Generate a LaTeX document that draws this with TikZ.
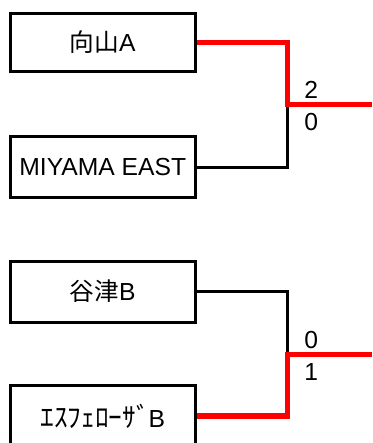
\documentclass[tikz,border=0pt]{standalone}
\usepackage{fontspec}
\setmainfont{Liberation Sans}
\newfontfamily\jp{Noto Sans CJK JP}
\usetikzlibrary{positioning}

\tikzset{team/.style={draw, line width=2.25pt, minimum width=138.4pt, minimum height=45.75pt, inner sep=0pt, font=\fontsize{18.5}{20}\selectfont},
  lose/.style={line width=2.25pt},
  win/.style={red, line width=4.3pt},
  score/.style={anchor=base west, inner sep=0pt, font=\fontsize{18.5}{20}\selectfont}}

\begin{document}
\begin{tikzpicture}[x=0.75pt,y=-0.75pt]
\useasboundingbox (0,0) rectangle (372,443);
\node[team, minimum height=43.5pt] (mukai) at (102.75,42.5) {{\jp 向山}A};
\node[team] (miyama) at (102.75,167) {MIYAMA EAST};
\node[team] (yatsu) at (102.75,291.5) {{\jp 谷津}B};
\node[team] (esfe) at (102.75,416) {{\jp\fontsize{20.5}{22}\selectfont ｴｽﾌｪﾛｰｻﾞ}\kern-1pt B};
\coordinate (m1) at (287.5,104.5);
\coordinate (w1) at (372,104.5);
\coordinate (m2) at (287.5,354.5);
\coordinate (w2) at (372,354.5);
\draw[lose] (miyama.east) -| (m1);
\draw[lose] (yatsu.east) -| (m2);
\draw[win] (mukai.east) -| (m1) -- (w1);
\draw[win] (esfe.east) -| (m2) -- (w2);
\node[score] (s1) at (304,98) {2};
\node[score] (s2) at (304,130) {0};
\node[score] (s3) at (304,348) {0};
\node[score] (s4) at (304,380) {1};
\end{tikzpicture}
\end{document}
